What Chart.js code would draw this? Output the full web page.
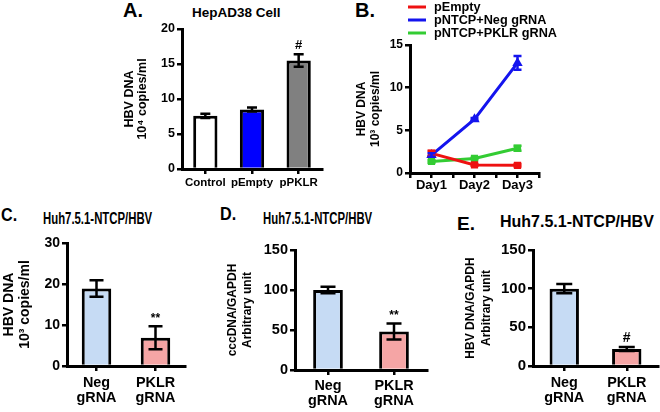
<!DOCTYPE html>
<html>
<head>
<meta charset="utf-8">
<script src="https://cdn.jsdelivr.net/npm/chart.js@4.4.0/dist/chart.umd.min.js"></script>
<style>
  body { margin: 0; width: 660px; height: 412px; background: #fff; position: relative; overflow: hidden; font-family: "Liberation Sans", Arial, sans-serif; }
  canvas { position: absolute; }
  .lbl { position: absolute; font-weight: bold; color: #000; white-space: nowrap; line-height: 1; transform-origin: left top; }
</style>
</head>
<body>
<div class="lbl" style="left:123px;top:0px;font-size:20px">A.</div>
<div class="lbl" style="left:192px;top:6px;font-size:13.5px">HepAD38 Cell</div>
<div class="lbl" style="left:355px;top:0px;font-size:20px">B.</div>
<div class="lbl" style="left:1px;top:205px;font-size:19px;transform:scaleX(0.85)">C.</div>
<div class="lbl" style="left:43px;top:211px;font-size:16px;transform:scaleX(0.71)">Huh7.5.1-NTCP/HBV</div>
<div class="lbl" style="left:220px;top:204px;font-size:19px;transform:scaleX(0.85)">D.</div>
<div class="lbl" style="left:263px;top:211px;font-size:16px;transform:scaleX(0.71)">Huh7.5.1-NTCP/HBV</div>
<div class="lbl" style="left:457px;top:214px;font-size:19px">E.</div>
<div class="lbl" style="left:500px;top:214px;font-size:16px">Huh7.5.1-NTCP/HBV</div>

<canvas id="chartA"></canvas>
<canvas id="chartB"></canvas>
<canvas id="chartC"></canvas>
<canvas id="chartD"></canvas>
<canvas id="chartE"></canvas>

<script>
// panel A - HepAD38 cell
const aLabels = ['Control', 'pEmpty', 'pPKLR'];
const aValues = [7.6, 8.5, 15.5];
const aErrors = [0.3, 0.3, 0.9];
const aMarks = ['', '', '#'];
const aColors = ['#ffffff', '#0000ff', '#808080'];

// panel B - time course
const bDays = [1, 2, 3];
const bSeries = ['pEmpty', 'pNTCP+Neg gRNA', 'pNTCP+PKLR gRNA'];
const bEmpty = [2.3, 0.95, 0.9];
const bEmptyErr = [0.3, 0.1, 0.15];
const bNeg = [2.1, 6.3, 12.9];
const bNegErr = [0.2, 0.15, 0.8];
const bPklr = [1.35, 1.7, 2.9];
const bPklrErr = [0.15, 0.1, 0.3];
const bColors = ['#ee1111', '#1414ee', '#33cc33'];

// panels C, D, E - gRNA knockdown
const gLabels = [['Neg', 'gRNA'], ['PKLR', 'gRNA']];
const gColors = ['#c6dbf4', '#f5a5a5'];
const cValues = [18.9, 6.9];
const cErrors = [2.0, 2.8];
const cMarks = ['', '**'];
const dValues = [100, 48];
const dErrors = [4, 10];
const dMarks = ['', '**'];
const eValues = [100, 22];
const eErrors = [6, 2.5];
const eMarks = ['', '#'];

Chart.defaults.font.family = '"Liberation Sans", Arial, sans-serif';
Chart.defaults.font.weight = 'bold';
Chart.defaults.color = '#000';

// vertical error bars + significance marks
const errorBars = {
  id: 'errorBars',
  afterDatasetsDraw(chart, args, opts) {
    const ctx = chart.ctx;
    const y = chart.scales.y;
    chart.data.datasets.forEach((ds, di) => {
      if (!ds.errors) return;
      const meta = chart.getDatasetMeta(di);
      meta.data.forEach((el, i) => {
        const raw = ds.data[i];
        const v = typeof raw === 'object' ? raw.y : raw;
        const e = ds.errors[i];
        const top = y.getPixelForValue(v + e);
        const bot = y.getPixelForValue(v - e);
        const x = el.x;
        const cap = opts.cap;
        ctx.save();
        ctx.strokeStyle = ds.errorColor || '#000';
        ctx.lineWidth = opts.width;
        ctx.beginPath();
        ctx.moveTo(x, top); ctx.lineTo(x, bot);
        ctx.moveTo(x - cap, top); ctx.lineTo(x + cap, top);
        ctx.moveTo(x - cap, bot); ctx.lineTo(x + cap, bot);
        ctx.stroke();
        if (ds.marks && ds.marks[i]) {
          ctx.fillStyle = '#000';
          ctx.font = 'bold ' + opts.markSize + 'px "Liberation Sans", Arial, sans-serif';
          ctx.textAlign = 'center';
          ctx.textBaseline = 'bottom';
          ctx.fillText(ds.marks[i], x, top - opts.markGap);
        }
        ctx.restore();
      });
    });
  }
};

// stacked legend for the line panel
const lineLegend = {
  id: 'lineLegend',
  afterDraw(chart, args, opts) {
    if (!opts.show) return;
    const { ctx, chartArea } = chart;
    ctx.save();
    ctx.font = 'bold ' + opts.size + 'px "Liberation Sans", Arial, sans-serif';
    ctx.textBaseline = 'middle';
    chart.data.datasets.forEach((ds, i) => {
      const yy = chartArea.top - opts.top + i * opts.row;
      ctx.strokeStyle = ds.borderColor;
      ctx.lineWidth = 3;
      ctx.beginPath();
      ctx.moveTo(chartArea.left + opts.x0, yy);
      ctx.lineTo(chartArea.left + opts.x1, yy);
      ctx.stroke();
      ctx.fillStyle = '#000';
      ctx.fillText(ds.label, chartArea.left + opts.tx, yy);
    });
    ctx.restore();
  }
};

function place(id, box) {
  const cv = document.getElementById(id);
  cv.width = box.w; cv.height = box.h;
  cv.style.left = box.x + 'px'; cv.style.top = box.y + 'px';
  cv.style.width = box.w + 'px'; cv.style.height = box.h + 'px';
  return cv;
}

function axisStyle(tickSize, pad) {
  return {
    grid: { drawOnChartArea: false, color: '#000', lineWidth: 2.5, tickLength: 5 },
    border: { display: true, color: '#000', width: 3 },
    ticks: { color: '#000', font: { size: tickSize, weight: 'bold' }, padding: pad, maxRotation: 0, autoSkip: false }
  };
}

function barPanel(id, box, area, o) {
  const cv = place(id, box);
  const xs = axisStyle(o.xFont, o.xPad);
  xs.grid.offset = false;
  const ys = axisStyle(o.yFont, 2);
  return new Chart(cv, {
    type: 'bar',
    data: {
      labels: o.labels,
      datasets: [{
        data: o.values,
        errors: o.errors,
        marks: o.marks,
        backgroundColor: o.colors,
        borderColor: '#000',
        borderWidth: 3,
        barPercentage: o.barPct,
        categoryPercentage: 1
      }]
    },
    options: {
      responsive: false,
      animation: false,
      devicePixelRatio: 1,
      layout: { padding: { left: 0, top: area.t - box.y, right: box.x + box.w - area.r, bottom: 0 } },
      plugins: {
        legend: { display: false },
        tooltip: { enabled: false },
        errorBars: { cap: o.cap, width: 2.5, markSize: o.markSize, markGap: 2 }
      },
      scales: {
        x: Object.assign(xs, {
          ticks: Object.assign(xs.ticks, { font: { size: o.xFont, weight: 'bold', lineHeight: o.xLine } }),
          afterFit: s => { s.height = box.y + box.h - area.b; }
        }),
        y: Object.assign(ys, {
          min: 0, max: o.max,
          ticks: Object.assign(ys.ticks, { stepSize: o.step }),
          title: {
            display: true, text: o.title, color: '#000',
            font: { size: o.tFont, weight: 'bold', lineHeight: o.tLine },
            padding: { top: o.tPad, bottom: 0 }
          },
          afterFit: s => { s.width = area.l - box.x; }
        })
      }
    },
    plugins: [errorBars]
  });
}

// A
barPanel('chartA', { x: 110, y: 0, w: 220, h: 200 }, { l: 182, r: 322, t: 29, b: 169 }, {
  labels: aLabels, values: aValues, errors: aErrors, marks: aMarks, colors: aColors,
  max: 20, step: 5, barPct: 0.52, cap: 5, markSize: 13,
  xFont: 11.5, xPad: 3, xLine: 1.1, yFont: 12.5,
  title: ['HBV DNA', '10\u2074 copies/ml'], tFont: 12.5, tLine: 1.0, tPad: 13.5
});

// C
barPanel('chartC', { x: 0, y: 225, w: 195, h: 187 }, { l: 67, r: 185, t: 243, b: 366 }, {
  labels: gLabels, values: cValues, errors: cErrors, marks: cMarks, colors: gColors,
  max: 30, step: 10, barPct: 0.5, cap: 7, markSize: 12,
  xFont: 14.4, xPad: 4, xLine: 1.05, yFont: 14,
  title: ['HBV DNA', '10\u00b3 copies/ml'], tFont: 14, tLine: 1.15, tPad: 1
});

// D
barPanel('chartD', { x: 215, y: 225, w: 220, h: 187 }, { l: 295, r: 427, t: 250, b: 370 }, {
  labels: gLabels, values: dValues, errors: dErrors, marks: dMarks, colors: gColors,
  max: 150, step: 50, barPct: 0.45, cap: 7.5, markSize: 12,
  xFont: 14.4, xPad: 3, xLine: 1.05, yFont: 14.5,
  title: ['cccDNA/GAPDH', 'Arbitrary unit'], tFont: 12, tLine: 1.25, tPad: 10.5
});

// E
barPanel('chartE', { x: 445, y: 225, w: 215, h: 187 }, { l: 533, r: 658, t: 250, b: 366 }, {
  labels: gLabels, values: eValues, errors: eErrors, marks: eMarks, colors: gColors,
  max: 150, step: 50, barPct: 0.47, cap: 8, markSize: 14,
  xFont: 14.4, xPad: 4, xLine: 1.05, yFont: 15,
  title: ['HBV DNA/GAPDH', 'Arbitrary unit'], tFont: 12, tLine: 1.33, tPad: 18
});

// B - line chart over days
(function () {
  const box = { x: 345, y: 0, w: 215, h: 200 };
  const area = { l: 410, r: 539, t: 45, b: 173 };
  const cv = place('chartB', box);
  const series = [bEmpty, bNeg, bPklr];
  const errs = [bEmptyErr, bNegErr, bPklrErr];
  const styles = ['rect', 'triangle', 'rect'];
  const xs = axisStyle(13, 0);
  const ys = axisStyle(12, 2);
  new Chart(cv, {
    type: 'line',
    data: {
      datasets: series.map((vals, k) => ({
        label: bSeries[k],
        data: bDays.map((d, i) => ({ x: d, y: vals[i] })),
        errors: errs[k],
        errorColor: bColors[k],
        borderColor: bColors[k],
        backgroundColor: bColors[k],
        borderWidth: 3,
        pointStyle: styles[k],
        pointRadius: 3,
        tension: 0
      }))
    },
    options: {
      responsive: false,
      animation: false,
      devicePixelRatio: 1,
      layout: { padding: { left: 0, top: area.t - box.y, right: box.x + box.w - area.r, bottom: 0 } },
      plugins: {
        legend: { display: false },
        tooltip: { enabled: false },
        errorBars: { cap: 4, width: 2.5, markSize: 12, markGap: 2 },
        lineLegend: { show: true, size: 12.7, top: 38, row: 13, x0: -2, x1: 16, tx: 24 }
      },
      scales: {
        x: Object.assign(xs, {
          type: 'linear', min: 0.5, max: 3.5,
          ticks: Object.assign(xs.ticks, {
            stepSize: 0.5,
            callback: v => Number.isInteger(v) ? 'Day' + v : ''
          }),
          afterFit: s => { s.height = box.y + box.h - area.b; }
        }),
        y: Object.assign(ys, {
          min: 0, max: 15,
          ticks: Object.assign(ys.ticks, { stepSize: 5 }),
          title: {
            display: true, text: ['HBV DNA', '10\u00b3 copies/ml'], color: '#000',
            font: { size: 12, weight: 'bold', lineHeight: 1.15 },
            padding: { top: 10, bottom: 0 }
          },
          afterFit: s => { s.width = area.l - box.x; }
        })
      }
    },
    plugins: [errorBars, lineLegend]
  });
})();
</script>
</body>
</html>
